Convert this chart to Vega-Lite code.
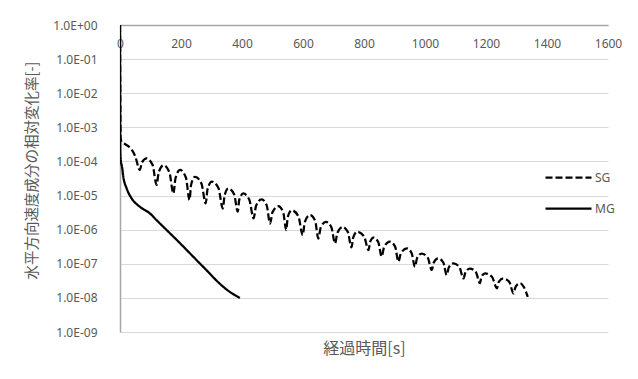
{
  "$schema": "https://vega.github.io/schema/vega-lite/v6.json",
  "width": 488,
  "height": 307,
  "autosize": {"type": "none"},
  "padding": {"left": 120, "top": 25, "right": 30, "bottom": 47},
  "background": "white",
  "config": {
    "view": {"stroke": null},
    "font": "Noto Sans",
    "axis": {"labelColor": "#595959", "labelFontSize": 12, "titleColor": "#595959", "titleFont": "Noto Sans CJK JP", "titleFontSize": 16, "titleFontWeight": "normal"}
  },
  "data": {"values": [
    {"s":"SG","t":0,"v":1},
    {"s":"SG","t":2,"v":5.0e-4},
    {"s":"SG","t":5,"v":3.72e-4},
    {"s":"SG","t":16,"v":3.24e-4},
    {"s":"SG","t":27,"v":2.82e-4},
    {"s":"SG","t":38,"v":2.24e-4},
    {"s":"SG","t":50,"v":1.41e-4},
    {"s":"SG","t":65,"v":5.62e-5},
    {"s":"SG","t":72,"v":9.33e-5},
    {"s":"SG","t":87,"v":1.23e-4},
    {"s":"SG","t":107,"v":7.85e-5},
    {"s":"SG","t":120,"v":2.04e-5},
    {"s":"SG","t":127,"v":4.86e-5},
    {"s":"SG","t":143,"v":7.76e-5},
    {"s":"SG","t":162,"v":4.81e-5},
    {"s":"SG","t":175,"v":1.15e-5},
    {"s":"SG","t":182,"v":3.23e-5},
    {"s":"SG","t":197,"v":5.62e-5},
    {"s":"SG","t":216,"v":3.39e-5},
    {"s":"SG","t":228,"v":7.41e-6},
    {"s":"SG","t":233,"v":2.05e-5},
    {"s":"SG","t":246,"v":3.55e-5},
    {"s":"SG","t":267,"v":2.26e-5},
    {"s":"SG","t":281,"v":5.89e-6},
    {"s":"SG","t":287,"v":1.53e-5},
    {"s":"SG","t":301,"v":2.57e-5},
    {"s":"SG","t":323,"v":1.63e-5},
    {"s":"SG","t":337,"v":4.17e-6},
    {"s":"SG","t":343,"v":1.01e-5},
    {"s":"SG","t":355,"v":1.62e-5},
    {"s":"SG","t":374,"v":1.10e-5},
    {"s":"SG","t":386,"v":3.39e-6},
    {"s":"SG","t":391,"v":7.48e-6},
    {"s":"SG","t":404,"v":1.15e-5},
    {"s":"SG","t":424,"v":7.53e-6},
    {"s":"SG","t":438,"v":2.14e-6},
    {"s":"SG","t":446,"v":4.94e-6},
    {"s":"SG","t":464,"v":7.76e-6},
    {"s":"SG","t":481,"v":5.15e-6},
    {"s":"SG","t":492,"v":1.51e-6},
    {"s":"SG","t":500,"v":3.24e-6},
    {"s":"SG","t":519,"v":4.90e-6},
    {"s":"SG","t":535,"v":3.27e-6},
    {"s":"SG","t":545,"v":9.77e-7},
    {"s":"SG","t":550,"v":2.33e-6},
    {"s":"SG","t":563,"v":3.72e-6},
    {"s":"SG","t":585,"v":2.44e-6},
    {"s":"SG","t":599,"v":6.92e-7},
    {"s":"SG","t":606,"v":1.67e-6},
    {"s":"SG","t":623,"v":2.69e-6},
    {"s":"SG","t":640,"v":1.81e-6},
    {"s":"SG","t":650,"v":5.50e-7},
    {"s":"SG","t":658,"v":1.14e-6},
    {"s":"SG","t":675,"v":1.70e-6},
    {"s":"SG","t":693,"v":1.18e-6},
    {"s":"SG","t":705,"v":3.98e-7},
    {"s":"SG","t":713,"v":8.17e-7},
    {"s":"SG","t":730,"v":1.20e-6},
    {"s":"SG","t":747,"v":8.51e-7},
    {"s":"SG","t":759,"v":3.02e-7},
    {"s":"SG","t":765,"v":6.01e-7},
    {"s":"SG","t":778,"v":8.71e-7},
    {"s":"SG","t":800,"v":6.38e-7},
    {"s":"SG","t":815,"v":2.51e-7},
    {"s":"SG","t":820,"v":4.37e-7},
    {"s":"SG","t":831,"v":5.89e-7},
    {"s":"SG","t":847,"v":4.27e-7},
    {"s":"SG","t":858,"v":1.62e-7},
    {"s":"SG","t":866,"v":3.13e-7},
    {"s":"SG","t":885,"v":4.47e-7},
    {"s":"SG","t":902,"v":3.18e-7},
    {"s":"SG","t":913,"v":1.15e-7},
    {"s":"SG","t":921,"v":2.06e-7},
    {"s":"SG","t":941,"v":2.82e-7},
    {"s":"SG","t":956,"v":2.07e-7},
    {"s":"SG","t":967,"v":8.13e-8},
    {"s":"SG","t":974,"v":1.46e-7},
    {"s":"SG","t":989,"v":2.00e-7},
    {"s":"SG","t":1009,"v":1.51e-7},
    {"s":"SG","t":1022,"v":6.61e-8},
    {"s":"SG","t":1029,"v":1.10e-7},
    {"s":"SG","t":1043,"v":1.45e-7},
    {"s":"SG","t":1060,"v":1.09e-7},
    {"s":"SG","t":1071,"v":4.68e-8},
    {"s":"SG","t":1078,"v":7.78e-8},
    {"s":"SG","t":1093,"v":1.02e-7},
    {"s":"SG","t":1113,"v":7.94e-8},
    {"s":"SG","t":1126,"v":3.72e-8},
    {"s":"SG","t":1133,"v":5.73e-8},
    {"s":"SG","t":1147,"v":7.24e-8},
    {"s":"SG","t":1167,"v":5.65e-8},
    {"s":"SG","t":1180,"v":2.69e-8},
    {"s":"SG","t":1185,"v":4.15e-8},
    {"s":"SG","t":1197,"v":5.25e-8},
    {"s":"SG","t":1220,"v":4.07e-8},
    {"s":"SG","t":1236,"v":1.91e-8},
    {"s":"SG","t":1242,"v":2.94e-8},
    {"s":"SG","t":1257,"v":3.72e-8},
    {"s":"SG","t":1277,"v":2.88e-8},
    {"s":"SG","t":1290,"v":1.35e-8},
    {"s":"SG","t":1297,"v":2.11e-8},
    {"s":"SG","t":1312,"v":2.69e-8},
    {"s":"SG","t":1324,"v":2.09e-8},
    {"s":"SG","t":1337,"v":1.07e-8},
    {"s":"MG","t":0,"v":1},
    {"s":"MG","t":1,"v":2.0e-4},
    {"s":"MG","t":3,"v":1.0e-4},
    {"s":"MG","t":6.5,"v":7.1e-5},
    {"s":"MG","t":11,"v":3.5e-5},
    {"s":"MG","t":22,"v":1.6e-5},
    {"s":"MG","t":38,"v":8.3e-6},
    {"s":"MG","t":65,"v":4.7e-6},
    {"s":"MG","t":98,"v":3.0e-6},
    {"s":"MG","t":120,"v":1.9e-6},
    {"s":"MG","t":186,"v":5.0e-7},
    {"s":"MG","t":273,"v":8.1e-8},
    {"s":"MG","t":339,"v":2.1e-8},
    {"s":"MG","t":360,"v":1.5e-8},
    {"s":"MG","t":393,"v":1.0e-8}
  ]},
  "mark": {"type": "line", "interpolate": "monotone", "strokeWidth": 2.25, "color": "black", "clip": true},
  "encoding": {
    "x": {
      "field": "t", "type": "quantitative",
      "scale": {"domain": [0, 1600], "nice": false},
      "axis": {
        "orient": "top", "title": "経過時間[s]", "values": [0,200,400,600,800,1000,1200,1400,1600],
        "format": "d",
        "grid": false, "ticks": false, "domainColor": "#a6a6a6", "domainWidth": 1.5,
        "labelPadding": -18, "labelBaseline": "middle", "labelFlush": false,
        "titleY": 323, "titleX": 244, "titleBaseline": "middle", "titleAnchor": "middle"
      }
    },
    "y": {
      "field": "v", "type": "quantitative",
      "scale": {"type": "log", "domain": [1e-9, 1], "nice": false},
      "axis": {
        "title": "水平方向速度成分の相対変化率[-]",
        "values": [1, 0.1, 0.01, 0.001, 0.0001, 0.00001, 0.000001, 0.0000001, 0.00000001, 0.000000001],
        "labelExpr": "'1.0E' + (datum.value >= 0.5 ? '+' : '-') + '0' + abs(round(log(datum.value) / LN10))",
        "ticks": false, "labelPadding": 23, "grid": true, "gridColor": "#d9d9d9", "gridWidth": 1,
        "domainColor": "#a6a6a6", "domainWidth": 1.5,
        "titleFontSize": 14.5,
        "titleX": -88, "titleY": 145, "titleAngle": -90, "titleBaseline": "middle", "titleAnchor": "middle", "titleAlign": "center"
      }
    },
    "strokeDash": {
      "field": "s", "type": "nominal",
      "scale": {"domain": ["SG", "MG"], "range": [[7, 3], [1, 0]]},
      "legend": {
        "title": null, "orient": "none", "legendX": 424, "legendY": 128,
        "symbolType": "stroke", "symbolSize": 2116, "symbolStrokeWidth": 2.25, "symbolStrokeColor": "black",
        "labelFontSize": 12, "labelColor": "#595959", "labelOffset": 2, "rowPadding": -14
      }
    }
  }
}
